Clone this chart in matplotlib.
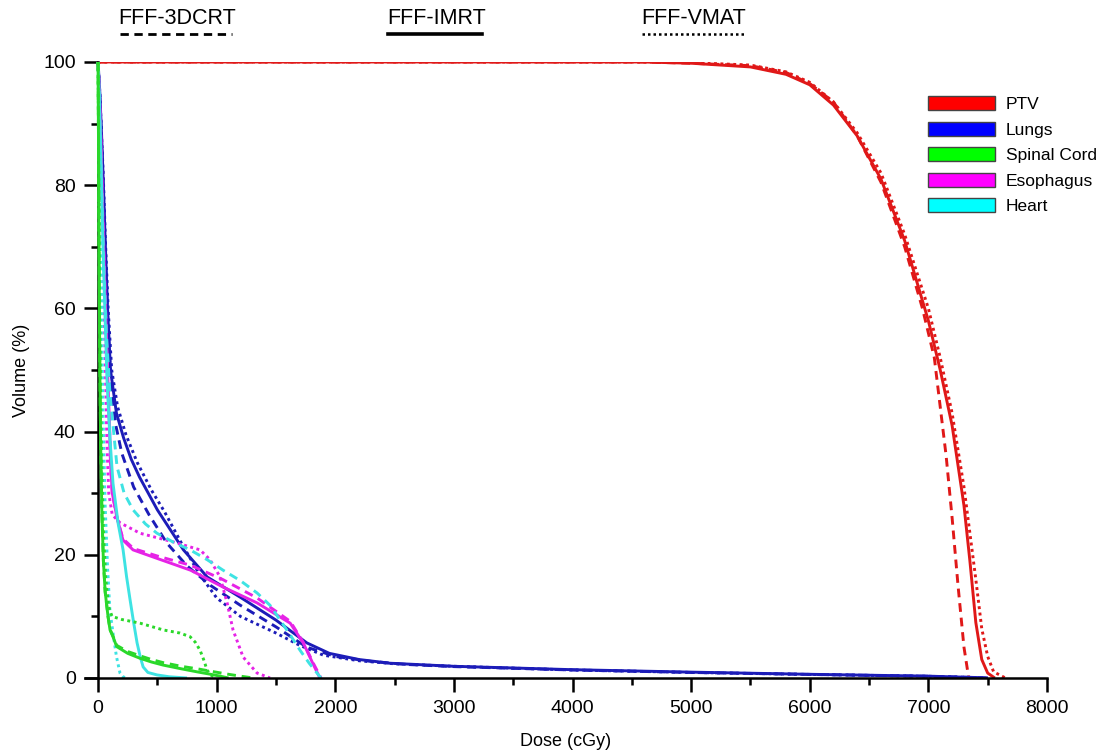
import numpy as np
import matplotlib
matplotlib.use('Agg')
import matplotlib.pyplot as plt
from matplotlib.patches import Patch
from matplotlib.lines import Line2D

plt.rcParams['font.family'] = ['Liberation Sans', 'DejaVu Sans']

# structures / colours
structures = ['PTV', 'Lungs', 'Spinal Cord', 'Esophagus', 'Heart']
line_colors = {'PTV': '#e01818', 'Lungs': '#1c1cb8', 'Spinal Cord': '#2ad82a',
               'Esophagus': '#e623e6', 'Heart': '#3ee3e3'}
patch_colors = {'PTV': '#ff0000', 'Lungs': '#0000ff', 'Spinal Cord': '#00ff00',
                'Esophagus': '#ff00ff', 'Heart': '#00ffff'}
plans = ['FFF-3DCRT', 'FFF-IMRT', 'FFF-VMAT']

# PTV
ptv_3dcrt_dose = [0, 4600, 5000, 5500, 5800, 6000, 6200, 6400, 6600, 6800, 6950, 7050, 7150, 7200, 7250, 7300, 7340]
ptv_3dcrt_vol = [100, 100, 99.8, 99.4, 98.3, 96.5, 93.5, 88, 80.5, 70, 60, 52, 36, 26, 15, 5, 0]
ptv_imrt_dose = [0, 4600, 5000, 5500, 5800, 6000, 6200, 6400, 6600, 6800, 7000, 7100, 7200, 7300, 7350, 7400, 7450, 7500, 7560]
ptv_imrt_vol = [100, 100, 99.8, 99.2, 98.0, 96.3, 93, 88, 81, 71, 58, 50, 41, 28, 19, 9, 3, 0.8, 0]
ptv_vmat_dose = [0, 4700, 5000, 5500, 5800, 6000, 6200, 6400, 6600, 6800, 7000, 7100, 7200, 7300, 7400, 7450, 7500, 7550, 7650]
ptv_vmat_vol = [100, 100, 99.9, 99.5, 98.4, 96.7, 93.5, 88.5, 82, 72, 60, 52, 43, 31, 16, 8, 3.5, 1, 0]

# Lungs
lung_3dcrt_dose = [0, 15, 30, 45, 60, 80, 105, 150, 200, 300, 430, 580, 750, 950, 1200, 1500, 1760, 2000, 2300, 2600, 3000, 4000, 5000, 6000, 7000, 7400, 7500]
lung_3dcrt_vol = [100, 94, 87, 79, 69, 59, 49, 41, 36.5, 31, 26.5, 21.9, 18.2, 15, 11.8, 8.3, 5.0, 3.5, 2.7, 2.2, 1.85, 1.3, 0.9, 0.58, 0.28, 0.07, 0]
lung_imrt_dose = [0, 15, 30, 45, 62, 80, 105, 155, 215, 280, 350, 500, 720, 920, 1200, 1500, 1760, 1950, 2200, 2460, 3000, 4000, 5000, 6000, 7000, 7400, 7500]
lung_imrt_vol = [100, 95, 88, 80, 70, 60, 50, 43, 39, 35.5, 32.6, 27.3, 20.8, 16.4, 13.1, 9.4, 5.7, 4, 3, 2.4, 1.9, 1.35, 0.95, 0.6, 0.3, 0.08, 0]
lung_vmat_dose = [0, 15, 30, 45, 62, 85, 115, 165, 235, 330, 450, 560, 700, 850, 1000, 1200, 1500, 1700, 1900, 2200, 2500, 3000, 4000, 5000, 6000, 7000, 7400, 7500]
lung_vmat_vol = [100, 95, 88, 81, 71, 60, 50, 44, 39.5, 35, 30.5, 27, 22, 17, 13, 10, 7.3, 5.3, 3.7, 2.8, 2.3, 1.9, 1.3, 0.9, 0.58, 0.28, 0.07, 0]

# Spinal cord
cord_3dcrt_dose = [0, 3, 6, 10, 15, 22, 32, 45, 60, 84, 101, 126, 157, 250, 354, 450, 548, 700, 835, 950, 1100, 1200, 1310]
cord_3dcrt_vol = [100, 90, 78, 64, 50, 38, 27, 19, 14, 10, 7.9, 6.8, 5.3, 4.3, 3.6, 3.0, 2.5, 1.9, 1.5, 1.1, 0.6, 0.3, 0]
cord_imrt_dose = [0, 3, 6, 10, 15, 22, 32, 45, 60, 84, 101, 126, 157, 250, 354, 450, 548, 700, 835, 950, 1029, 1100]
cord_imrt_vol = [100, 90, 78, 64, 50, 38, 27, 19, 14, 10, 7.8, 6.7, 5.1, 4.0, 3.2, 2.6, 2.1, 1.5, 1.0, 0.6, 0.3, 0]
cord_vmat_dose = [0, 4, 8, 14, 20, 30, 45, 65, 90, 118, 200, 354, 550, 690, 776, 820, 860, 890, 919, 950, 990]
cord_vmat_vol = [100, 88, 74, 60, 48, 36, 24, 16, 11.5, 10, 9.5, 8.9, 7.8, 7.3, 6.7, 5.8, 4.5, 3, 1.3, 0.5, 0]

# Esophagus
eso_3dcrt_dose = [0, 20, 40, 60, 80, 95, 105, 120, 160, 210, 300, 500, 780, 1050, 1340, 1620, 1730, 1820, 1880]
eso_3dcrt_vol = [100, 90, 75, 62, 50, 42, 35, 30, 26, 22.6, 21.0, 19.8, 18.3, 16.0, 13.0, 9.2, 5.8, 2.2, 0]
eso_imrt_dose = [0, 20, 40, 60, 80, 95, 105, 120, 160, 210, 295, 500, 780, 1050, 1340, 1620, 1730, 1810, 1870]
eso_imrt_vol = [100, 90, 75, 62, 50, 42, 35, 30, 26, 22.4, 20.8, 19.4, 17.5, 14.8, 12.2, 8.9, 5.7, 2.4, 0]
eso_vmat_dose = [0, 20, 40, 60, 75, 90, 120, 185, 354, 632, 860, 944, 1029, 1088, 1138, 1223, 1341, 1450]
eso_vmat_vol = [100, 88, 70, 52, 38, 30, 26.5, 25.2, 23.5, 22.1, 20.8, 19.2, 16.4, 12.2, 7.8, 3.4, 0.8, 0]

# Heart
heart_3dcrt_dose = [0, 10, 20, 35, 50, 70, 101, 160, 220, 295, 400, 497, 640, 776, 920, 1054, 1200, 1341, 1450, 1535, 1620, 1703, 1780, 1846, 1880]
heart_3dcrt_vol = [100, 94, 86, 76, 66, 56, 46, 34.3, 30, 27.3, 25, 23.5, 22, 20.8, 19.2, 17.5, 15.8, 13.8, 11.8, 9.4, 7, 4.5, 2.4, 0.8, 0]
heart_imrt_dose = [0, 10, 20, 30, 42, 60, 76, 100, 126, 170, 211, 240, 270, 300, 329, 355, 380, 420, 497, 600, 750]
heart_imrt_vol = [100, 95, 88, 80, 70, 58, 48, 39, 31.6, 25, 20.8, 16.5, 12.7, 9, 5.7, 3.5, 1.8, 0.9, 0.5, 0.2, 0]
heart_vmat_dose = [0, 8, 15, 25, 35, 45, 60, 80, 100, 126, 155, 185, 210, 240]
heart_vmat_vol = [100, 92, 80, 66, 52, 40, 28, 18, 11, 7.3, 3.5, 0.8, 0.2, 0]

curves = {
    'PTV': [(ptv_3dcrt_dose, ptv_3dcrt_vol), (ptv_imrt_dose, ptv_imrt_vol), (ptv_vmat_dose, ptv_vmat_vol)],
    'Lungs': [(lung_3dcrt_dose, lung_3dcrt_vol), (lung_imrt_dose, lung_imrt_vol), (lung_vmat_dose, lung_vmat_vol)],
    'Esophagus': [(eso_3dcrt_dose, eso_3dcrt_vol), (eso_imrt_dose, eso_imrt_vol), (eso_vmat_dose, eso_vmat_vol)],
    'Heart': [(heart_3dcrt_dose, heart_3dcrt_vol), (heart_imrt_dose, heart_imrt_vol), (heart_vmat_dose, heart_vmat_vol)],
    'Spinal Cord': [(cord_3dcrt_dose, cord_3dcrt_vol), (cord_imrt_dose, cord_imrt_vol), (cord_vmat_dose, cord_vmat_vol)],
}
styles = [(0, (3.0, 2.0)), '-', (0, (1, 1.2))]

fig = plt.figure(figsize=(10.98, 7.53), dpi=100)
ax = fig.add_axes([85 / 1098, 1 - 678 / 753, 962 / 1098, 616 / 753])

for name, plist in curves.items():
    for (d, v), ls in zip(plist, styles):
        ax.plot(d, v, color=line_colors[name], linestyle=ls, lw=2.1, solid_capstyle='butt')

ax.set_xlim(-110, 8000)
ax.set_ylim(0, 100)
ax.spines['top'].set_visible(False)
ax.spines['right'].set_visible(False)
ax.spines['left'].set_position(('data', 0))
ax.spines['left'].set_linewidth(1.8)
ax.spines['bottom'].set_linewidth(1.8)
ax.spines['left'].set_zorder(0.5)

ax.set_xticks(np.arange(0, 8001, 1000))
ax.set_xticks(np.arange(500, 8000, 1000), minor=True)
ax.set_yticks(np.arange(0, 101, 20))
ax.set_yticks(np.arange(10, 100, 20), minor=True)
ax.tick_params(axis='both', which='major', direction='out', length=10, width=1.8, pad=6)
ax.tick_params(axis='both', which='minor', direction='out', length=5, width=1.8)
for lab in ax.get_xticklabels() + ax.get_yticklabels():
    lab.set_fontsize(14)

ax.set_xlabel('Dose (cGy)', fontsize=13, labelpad=11)
ax.set_ylabel('Volume (%)', fontsize=13)
ax.yaxis.set_label_coords(-0.057, 0.5)

handles = [Patch(facecolor=patch_colors[s], edgecolor='#444444', lw=1) for s in structures]
ax.legend(handles, structures, loc='upper left', bbox_to_anchor=(0.876, 0.944),
          frameon=False, fontsize=12.5, handlelength=3.9, handleheight=0.85,
          handletextpad=0.6, labelspacing=0.55, borderpad=0, borderaxespad=0)

# plan key on top
plan_x = [177, 437, 694]
plan_seg = [(120, 232), (388, 482), (642, 744)]
plan_lw = [2.0, 2.6, 1.8]
W, H = 1098, 753
for p, cx, (x0, x1), ls, lw in zip(plans, plan_x, plan_seg, styles, plan_lw):
    fig.text(cx / W, 1 - 18 / H, p, ha='center', va='center', fontsize=15.5)
    fig.add_artist(Line2D([x0 / W, x1 / W], [1 - 34 / H, 1 - 34 / H], color='black',
                          linestyle=ls, lw=lw, transform=fig.transFigure))

fig.savefig('out.png', dpi=100)
